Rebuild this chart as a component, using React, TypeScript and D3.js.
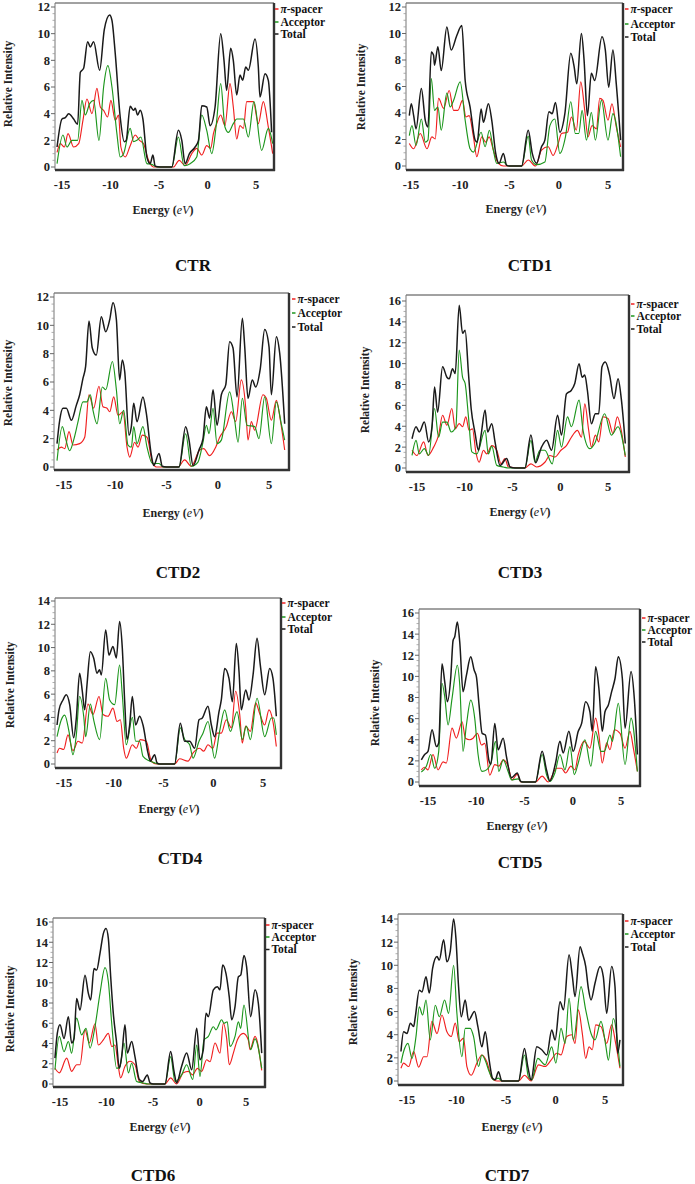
import React from 'react';
import * as d3 from 'd3';

type Pt = [number, number];

// energy ticks shared by every panel
const ENERGY_TICKS = [-15, -10, -5, 0, 5];
const SERIES_NAMES = ['π-spacer', 'Acceptor', 'Total'];
const SERIES_COLORS = ['#f02020', '#1c961c', '#1a1a1a'];

// ---- CTR ----
const ctrTotal: Pt[] = [[-15.51,1.5],[-15.0,3.6],[-14.66,3.7],[-14.31,4.0],[-13.8,3.6],[-13.39,3.2],[-13.11,7.1],[-12.77,7.4],[-12.36,9.4],[-12.08,9.0],[-11.74,9.4],[-11.12,7.25],[-10.64,10.3],[-10.09,11.4],[-9.85,11.0],[-9.51,8.5],[-9.0,3.75],[-8.58,1.9],[-8.38,2.0],[-7.97,4.55],[-7.62,4.25],[-7.45,4.4],[-7.21,3.9],[-6.94,4.25],[-6.66,3.6],[-6.25,0.75],[-5.91,0.25],[-5.63,0.9],[-5.39,0.05],[-4.88,0],[-3.68,0],[-3.0,2.75],[-2.65,2.0],[-2.31,0.25],[-1.86,1.0],[-1.28,1.5],[-0.93,2.0],[-0.59,4.6],[-0.08,4.5],[0.27,3.1],[0.78,4.5],[1.36,10.0],[1.7,8.0],[1.97,5.75],[2.39,8.9],[2.66,8.0],[3.01,5.4],[3.35,6.9],[3.63,6.5],[3.94,7.5],[4.21,7.25],[4.9,9.6],[5.24,7.5],[5.41,5.25],[5.93,7.0],[6.27,6.5],[6.61,2.6]];
const ctrAcceptor: Pt[] = [[-15.51,0.25],[-14.9,2.4],[-14.49,1.5],[-13.97,2.0],[-13.39,2.0],[-12.94,5.0],[-12.6,3.9],[-12.15,4.75],[-11.74,5.0],[-11.19,2.0],[-10.71,6.0],[-10.27,7.6],[-9.85,6.0],[-9.34,2.5],[-9.0,0.75],[-8.65,1.0],[-7.97,2.9],[-7.62,1.9],[-7.28,2.0],[-6.87,2.25],[-6.25,0.25],[-5.74,0.2],[-5.22,0],[-3.68,0],[-3.0,2.25],[-2.41,0.1],[-1.79,0.25],[-1.11,0.75],[-0.59,3.9],[-0.08,2.75],[0.44,1.0],[0.88,3.0],[1.36,6.25],[1.8,3.0],[2.15,2.6],[2.66,3.25],[3.01,3.6],[3.7,3.6],[4.21,2.25],[4.79,4.9],[5.58,1.25],[6.27,2.9],[6.72,1.75]];
const ctrSpacer: Pt[] = [[-15.51,1.1],[-15.17,1.75],[-14.76,1.5],[-14.38,2.5],[-13.8,1.5],[-13.28,1.75],[-12.84,3.5],[-12.43,5.1],[-11.91,4.0],[-11.4,5.9],[-11.05,4.5],[-10.71,4.25],[-10.3,3.75],[-9.96,5.0],[-9.51,3.5],[-9.17,3.9],[-8.93,1.5],[-8.48,0.75],[-7.97,1.6],[-7.45,2.4],[-7.01,2.0],[-6.6,1.75],[-6.08,0.5],[-5.57,0],[-3.51,0],[-2.92,0.5],[-2.31,0.1],[-1.62,1.0],[-1.11,1.4],[-0.59,0.9],[-0.08,1.6],[0.33,1.4],[0.61,2.5],[0.95,3.25],[1.36,3.9],[1.8,3.1],[2.32,6.25],[2.66,4.5],[3.01,2.1],[3.35,3.1],[3.7,2.9],[4.04,4.9],[4.73,4.9],[5.24,3.25],[5.75,4.9],[6.27,3.0],[6.72,1.0]];

// ---- CTD1 ----
const ctd1Total: Pt[] = [[-15.17,3.8],[-14.97,4.7],[-14.73,3.8],[-14.49,2.8],[-13.95,5.85],[-13.55,3.45],[-13.28,2.95],[-12.94,8.6],[-12.71,8.35],[-12.61,7.6],[-12.27,9.0],[-11.93,7.2],[-11.36,10.5],[-10.92,8.75],[-10.35,9.85],[-9.84,10.6],[-9.5,6.45],[-9.0,4.45],[-8.49,1.95],[-8.29,1.8],[-7.88,4.3],[-7.65,3.3],[-7.14,4.7],[-6.8,3.45],[-6.4,0.95],[-6.06,0.2],[-5.62,0.95],[-5.29,0.05],[-4.95,0],[-3.77,0],[-3.1,2.7],[-2.69,0.95],[-2.25,0.2],[-1.75,1.45],[-1.41,1.95],[-1.0,4.1],[-0.67,3.95],[-0.33,4.8],[0.11,2.55],[0.62,3.95],[1.22,8.5],[1.56,7.5],[1.83,6.2],[2.3,10.0],[2.57,8.0],[2.91,3.8],[3.31,7.0],[3.65,6.45],[4.39,9.75],[4.73,8.75],[5.07,5.95],[5.5,8.75],[5.84,6.2],[6.28,1.95]];
const ctd1Acceptor: Pt[] = [[-15.17,2.3],[-14.9,3.05],[-14.49,1.55],[-13.95,3.55],[-13.55,1.8],[-13.28,1.95],[-12.94,6.6],[-12.61,4.2],[-12.27,4.45],[-11.93,2.7],[-11.36,5.5],[-11.02,4.45],[-10.68,4.95],[-10.01,6.35],[-9.5,3.45],[-9.0,1.3],[-8.66,1.05],[-7.88,2.55],[-7.48,1.45],[-7.04,2.7],[-6.64,1.2],[-6.3,0.2],[-5.62,0.3],[-5.12,0],[-3.77,0],[-3.1,2.25],[-2.76,0.45],[-2.25,0.1],[-1.41,0.3],[-0.9,3.05],[-0.4,3.55],[0.11,0.95],[0.68,2.2],[1.22,4.85],[1.69,2.45],[2.03,2.45],[2.37,4.2],[2.81,1.95],[3.31,4.05],[3.72,1.95],[4.33,4.95],[5.0,1.95],[5.5,3.95],[6.28,0.7]];
const ctd1Spacer: Pt[] = [[-15.17,1.7],[-14.73,1.3],[-14.06,2.45],[-13.38,1.3],[-12.88,2.2],[-12.54,2.05],[-12.2,5.1],[-11.69,4.35],[-11.12,5.7],[-10.68,4.2],[-10.24,4.2],[-9.77,4.95],[-9.43,3.7],[-9.1,3.8],[-8.66,2.2],[-8.32,0.7],[-7.82,2.2],[-7.41,1.8],[-7.07,2.2],[-6.64,1.2],[-6.13,0.2],[-5.62,0],[-3.77,0],[-3.1,0.45],[-2.35,0],[-1.75,1.2],[-1.07,1.45],[-0.57,0.8],[-0.06,1.7],[0.28,2.45],[0.89,2.55],[1.29,3.7],[1.79,2.7],[2.23,6.35],[2.64,4.2],[2.97,2.2],[3.38,3.05],[3.82,2.8],[4.16,5.1],[4.49,4.95],[5.0,3.45],[5.4,4.7],[5.84,2.95],[6.28,1.45]];

// ---- CTD2 ----
const ctd2Total: Pt[] = [[-15.68,1.65],[-15.42,3.3],[-15.1,4.15],[-14.77,4.15],[-14.28,3.3],[-13.8,4.35],[-13.47,5.1],[-13.15,6.25],[-12.89,7.1],[-12.56,10.3],[-12.24,8.4],[-11.85,7.9],[-11.36,10.6],[-10.93,9.55],[-10.54,10.4],[-10.22,11.6],[-9.89,10.4],[-9.57,6.15],[-9.31,7.55],[-9.08,6.75],[-8.66,2.25],[-8.43,2.85],[-8.2,4.5],[-7.88,3.2],[-7.3,4.95],[-6.97,3.8],[-6.48,0.85],[-6.25,0.1],[-5.73,0.95],[-5.41,0.05],[-5.02,0],[-3.78,0],[-3.13,2.85],[-2.8,1.9],[-2.41,0.1],[-1.83,1.2],[-1.44,2.0],[-1.11,4.25],[-0.79,3.45],[-0.46,5.45],[-0.07,2.95],[0.35,5.1],[0.78,5.8],[1.16,8.85],[1.49,8.4],[1.88,4.95],[2.4,10.5],[2.63,8.5],[2.95,4.85],[3.37,6.15],[3.7,5.65],[4.15,6.95],[4.58,9.7],[5.0,8.5],[5.23,5.1],[5.72,9.2],[6.04,8.05],[6.53,3.05]];
const ctd2Acceptor: Pt[] = [[-15.68,0.45],[-15.16,2.85],[-14.84,2.0],[-14.45,1.15],[-14.06,1.9],[-13.63,3.2],[-13.15,4.6],[-12.76,4.6],[-12.43,5.1],[-12.17,4.0],[-11.78,3.05],[-11.26,5.65],[-10.93,5.45],[-10.28,7.45],[-9.89,5.45],[-9.57,3.05],[-9.18,4.0],[-8.76,1.55],[-8.43,1.4],[-8.2,2.85],[-7.88,1.65],[-7.3,2.85],[-6.9,1.4],[-6.38,0.25],[-5.73,0.25],[-5.34,0],[-3.78,0],[-3.13,2.35],[-2.58,0.05],[-1.93,0.35],[-1.44,1.75],[-1.11,2.95],[-0.85,2.35],[-0.46,4.15],[-0.07,1.65],[0.35,1.9],[1.16,5.3],[1.65,3.3],[1.98,1.75],[2.4,4.85],[2.85,2.95],[3.6,2.85],[4.02,2.0],[4.58,4.95],[5.23,1.65],[5.72,4.6],[6.2,3.05],[6.53,1.9]];
const ctd2Spacer: Pt[] = [[-15.68,1.2],[-15.26,1.4],[-14.93,1.3],[-14.51,2.5],[-14.12,1.55],[-13.47,1.65],[-12.98,2.1],[-12.56,5.1],[-12.11,4.15],[-11.59,5.7],[-11.2,4.25],[-10.8,4.15],[-10.54,3.9],[-10.15,4.95],[-9.73,3.65],[-9.24,3.9],[-8.85,1.4],[-8.59,0.7],[-8.11,1.75],[-7.78,1.4],[-7.36,2.25],[-6.9,2.1],[-6.38,0.35],[-5.99,0],[-3.88,0],[-3.23,0.5],[-2.58,0.05],[-1.76,1.2],[-1.37,1.3],[-0.79,0.8],[-0.2,1.4],[0.19,2.1],[0.84,2.85],[1.33,3.9],[1.75,3.2],[2.3,6.15],[2.72,4.25],[2.95,1.9],[3.28,3.2],[3.6,2.6],[4.41,5.1],[4.74,4.85],[5.23,3.3],[5.72,4.7],[6.11,3.3],[6.53,1.2]];

// ---- CTD3 ----
const ctd3Total: Pt[] = [[-15.52,2.8],[-15.1,3.95],[-14.76,3.45],[-14.23,4.4],[-13.78,2.5],[-13.43,3.95],[-13.16,7.75],[-12.84,5.35],[-12.32,9.7],[-11.87,8.7],[-11.63,8.55],[-11.28,9.5],[-11.0,9.05],[-10.58,15.6],[-10.23,12.9],[-9.96,13.2],[-9.61,9.05],[-9.33,5.7],[-8.91,3.3],[-8.57,1.7],[-8.29,3.15],[-7.87,5.55],[-7.6,3.45],[-7.17,4.25],[-6.83,2.5],[-6.3,0.25],[-5.61,0.9],[-5.26,0.1],[-4.74,0],[-3.7,0],[-3.07,3.15],[-2.58,0.5],[-1.96,2.0],[-1.43,2.65],[-0.91,1.7],[-0.28,5.05],[0.13,3.15],[0.65,7.1],[1.17,7.45],[1.52,8.1],[1.97,10.0],[2.29,8.7],[2.57,8.9],[2.84,7.45],[3.26,4.25],[3.68,5.2],[4.03,5.2],[4.37,9.7],[4.72,10.15],[5.17,8.9],[5.63,6.65],[6.05,8.55],[6.39,6.65],[6.81,2.35]];
const ctd3Acceptor: Pt[] = [[-15.52,1.2],[-15.1,2.65],[-14.76,1.35],[-14.23,1.85],[-13.78,1.2],[-13.16,5.7],[-12.74,2.95],[-12.32,4.4],[-11.87,4.4],[-11.42,3.45],[-10.93,3.95],[-10.58,11.3],[-10.23,8.7],[-9.96,8.1],[-9.61,4.9],[-9.26,1.55],[-8.74,1.35],[-7.87,3.6],[-7.53,1.35],[-7.17,2.1],[-6.65,0.25],[-5.96,0.1],[-5.43,0],[-3.7,0],[-3.07,2.65],[-2.65,0.55],[-2.13,1.7],[-1.61,1.7],[-0.84,0.4],[-0.28,3.6],[0.13,2.0],[0.76,4.9],[1.17,3.95],[1.97,6.5],[2.39,3.6],[3.09,1.85],[3.61,2.35],[4.65,5.2],[5.35,3.15],[6.05,3.95],[6.81,1.2]];
const ctd3Spacer: Pt[] = [[-15.52,1.7],[-15.0,1.2],[-14.3,2.5],[-13.85,1.2],[-13.26,2.0],[-12.74,3.15],[-12.32,5.05],[-11.87,4.1],[-11.35,5.7],[-11.0,3.75],[-10.58,4.25],[-10.23,3.95],[-9.89,4.9],[-9.54,3.6],[-9.19,3.75],[-8.84,1.55],[-8.5,0.55],[-8.04,1.7],[-7.7,1.35],[-7.17,2.15],[-6.65,1.7],[-6.2,0.4],[-5.8,0.9],[-5.43,0.1],[-3.7,0],[-3.07,0.4],[-2.48,0.1],[-1.61,0.55],[-1.09,1.2],[-0.56,1.05],[0.07,1.7],[0.65,2.15],[1.17,2.95],[1.8,3.6],[2.22,2.95],[2.57,6.15],[2.98,3.6],[3.26,2.0],[3.68,3.15],[4.03,2.5],[4.48,4.9],[5.0,4.75],[5.52,3.3],[5.98,4.9],[6.39,3.6],[6.81,1.05]];

// ---- CTD4 ----
const ctd4Total: Pt[] = [[-15.7,3.35],[-15.5,4.65],[-15.1,5.5],[-14.77,5.95],[-14.43,5.1],[-14.03,2.25],[-13.76,3.95],[-13.43,7.8],[-13.16,6.25],[-12.92,4.65],[-12.69,6.8],[-12.35,9.65],[-12.02,9.1],[-11.68,7.8],[-11.42,8.1],[-11.25,7.65],[-10.81,11.5],[-10.48,9.35],[-10.08,10.1],[-9.74,9.1],[-9.41,12.25],[-9.14,9.95],[-8.9,5.35],[-8.67,2.1],[-8.4,3.35],[-8.13,5.8],[-7.8,3.35],[-7.4,4.1],[-7.06,3.35],[-6.56,0.95],[-6.32,0.25],[-5.89,0.8],[-5.65,0.1],[-5.39,0],[-3.88,0],[-3.31,3.5],[-2.87,1.95],[-2.37,1.95],[-1.87,1.35],[-1.43,3.8],[-1.1,3.95],[-0.53,4.95],[-0.19,3.35],[0.14,2.35],[0.58,4.5],[0.81,5.5],[1.15,8.2],[1.58,7.35],[1.92,5.35],[2.32,10.35],[2.59,7.95],[2.82,4.65],[3.26,6.35],[3.59,5.5],[4.0,7.65],[4.4,10.8],[4.73,8.5],[5.17,5.95],[5.67,8.2],[6.0,7.35],[6.34,4.1]];
const ctd4Acceptor: Pt[] = [[-15.7,2.35],[-15.27,3.8],[-14.93,4.2],[-14.5,2.8],[-14.1,0.8],[-13.76,2.5],[-13.43,5.8],[-13.02,4.1],[-12.82,2.35],[-12.35,5.15],[-12.02,3.8],[-11.42,2.1],[-10.81,7.35],[-10.41,5.5],[-9.91,5.1],[-9.41,8.5],[-9.14,5.95],[-8.74,1.65],[-8.13,4.0],[-7.8,1.95],[-7.4,1.95],[-7.06,0.65],[-6.39,0.25],[-5.89,0.1],[-5.39,0],[-3.88,0],[-3.31,3.1],[-2.87,2.1],[-2.37,1.65],[-2.03,0.5],[-1.43,1.95],[-1.03,2.65],[-0.53,3.65],[0.14,0.5],[0.64,2.8],[1.15,4.65],[1.72,2.8],[2.39,4.5],[2.92,2.1],[3.32,3.25],[3.73,2.1],[4.4,5.65],[5.17,2.35],[5.84,3.95],[6.07,3.95],[6.34,2.5]];
const ctd4Spacer: Pt[] = [[-15.7,0.95],[-15.44,1.35],[-15.03,1.25],[-14.6,2.5],[-14.1,1.15],[-13.59,1.95],[-13.16,1.8],[-12.59,5.15],[-12.09,4.25],[-11.48,5.8],[-11.08,4.25],[-10.58,4.1],[-10.08,4.8],[-9.67,3.65],[-9.34,3.8],[-9.0,1.35],[-8.74,0.5],[-8.13,1.65],[-7.73,1.35],[-7.33,2.1],[-6.73,1.95],[-6.22,0.25],[-5.72,0],[-3.88,0],[-3.38,0.45],[-2.54,0.25],[-2.03,0.95],[-1.37,1.35],[-0.96,1.1],[-0.53,1.65],[-0.03,1.35],[0.38,2.65],[0.81,2.65],[1.31,3.8],[1.82,3.1],[2.25,6.25],[2.66,4.25],[2.92,1.8],[3.26,3.25],[3.73,2.8],[4.26,5.25],[4.66,4.35],[5.17,3.35],[5.6,4.65],[6.0,3.65],[6.34,1.5]];

// ---- CTD5 ----
const ctd5Total: Pt[] = [[-15.69,2.1],[-15.35,2.6],[-15.0,2.9],[-14.58,4.95],[-14.13,3.35],[-13.89,3.7],[-13.55,11.2],[-13.27,9.5],[-12.99,7.6],[-12.65,9.8],[-12.4,13.4],[-12.23,13.75],[-11.96,15.15],[-11.71,13.25],[-11.37,8.55],[-11.02,10.1],[-10.57,11.85],[-10.22,10.6],[-9.98,9.95],[-9.71,7.3],[-9.39,4.6],[-9.05,4.45],[-8.7,2.1],[-8.49,1.65],[-8.08,5.55],[-7.73,3.05],[-7.21,4.15],[-6.87,2.4],[-6.35,0.4],[-5.76,0.85],[-5.38,0.05],[-4.97,0],[-3.86,0],[-3.17,2.9],[-2.72,1.15],[-2.37,0.1],[-1.78,1.8],[-1.33,3.85],[-0.99,2.75],[-0.4,4.8],[0.05,2.9],[0.57,4.8],[0.92,5.55],[1.33,7.6],[1.78,6.65],[2.02,4.8],[2.37,10.9],[2.71,8.85],[3.06,4.8],[3.34,6.65],[3.69,7.3],[4.03,8.55],[4.38,9.8],[4.72,11.85],[5.14,9.8],[5.42,5.1],[6.04,10.45],[6.38,7.9],[6.7,2.6]];
const ctd5Acceptor: Pt[] = [[-15.69,0.95],[-15.17,1.5],[-14.72,2.6],[-14.31,1.3],[-13.89,2.9],[-13.55,9.35],[-13.27,8.1],[-12.92,5.4],[-12.51,7.9],[-11.96,11.05],[-11.71,9.2],[-11.37,2.9],[-11.02,5.4],[-10.57,7.75],[-10.16,6.05],[-9.81,2.6],[-9.39,1.0],[-8.94,1.15],[-8.43,1.95],[-8.01,3.85],[-7.66,1.0],[-7.21,2.1],[-6.7,1.0],[-6.35,0.2],[-5.66,0.3],[-5.31,0],[-3.86,0],[-3.17,2.6],[-2.72,0.7],[-2.37,0.05],[-1.85,0.85],[-1.33,2.6],[-0.81,1.15],[-0.29,3.35],[0.16,0.7],[0.57,1.8],[1.26,4.0],[1.88,1.5],[2.37,4.8],[2.92,2.9],[3.27,2.9],[3.86,4.45],[4.1,3.85],[4.72,7.45],[5.42,1.65],[6.04,6.05],[6.7,1.0]];
const ctd5Spacer: Pt[] = [[-15.69,1.15],[-15.35,1.4],[-15.0,1.15],[-14.48,2.6],[-13.96,1.15],[-13.44,1.9],[-13.1,1.8],[-12.51,5.1],[-12.06,4.15],[-11.47,5.7],[-11.12,4.15],[-10.67,4.0],[-10.33,4.15],[-9.88,4.6],[-9.46,3.5],[-9.12,3.65],[-8.6,0.65],[-8.08,1.65],[-7.66,1.5],[-7.21,2.1],[-6.7,1.5],[-6.28,0.2],[-5.76,0.75],[-5.38,0],[-3.86,0],[-3.17,0.55],[-2.54,0],[-1.68,1.3],[-1.16,1.3],[-0.74,0.85],[-0.19,1.5],[0.22,1.15],[0.57,2.6],[1.19,3.85],[1.78,3.2],[2.37,6.05],[2.71,4.45],[3.06,1.8],[3.51,3.7],[3.86,3.05],[4.31,4.95],[4.9,4.6],[5.42,3.2],[5.93,4.8],[6.28,3.2],[6.7,1.0]];

// ---- CTD6 ----
const ctd6Total: Pt[] = [[-15.54,2.55],[-15.29,5.0],[-15.0,5.85],[-14.57,4.5],[-14.1,6.65],[-13.75,4.05],[-13.49,4.5],[-13.21,8.45],[-12.85,7.3],[-12.31,10.75],[-11.95,8.95],[-11.7,8.3],[-11.34,11.4],[-11.06,11.25],[-10.7,12.9],[-10.34,14.85],[-10.05,15.35],[-9.8,14.35],[-9.55,10.6],[-9.27,7.0],[-8.91,4.05],[-8.62,1.55],[-8.37,2.7],[-8.01,5.85],[-7.76,3.05],[-7.29,4.2],[-6.94,2.7],[-6.47,0.45],[-6.11,0.25],[-5.61,0.9],[-5.32,0.1],[-4.96,0],[-3.71,0],[-3.1,3.2],[-2.74,1.25],[-2.46,0.1],[-1.92,1.75],[-1.38,3.05],[-0.84,1.4],[-0.3,5.5],[0.05,2.4],[0.41,3.4],[0.7,7.0],[0.95,6.65],[1.49,9.3],[1.92,9.6],[2.2,9.3],[2.49,11.75],[2.85,10.9],[3.2,8.6],[3.46,6.35],[3.82,7.65],[4.18,10.6],[4.43,10.75],[4.78,12.7],[5.07,11.55],[5.5,6.65],[5.97,9.3],[6.33,7.95],[6.69,3.05]];
const ctd6Acceptor: Pt[] = [[-15.54,1.4],[-15.07,4.7],[-14.57,3.2],[-14.1,4.2],[-13.75,3.05],[-13.21,6.5],[-12.67,4.85],[-12.2,5.5],[-11.77,3.55],[-11.24,5.65],[-10.7,8.95],[-10.16,11.5],[-9.8,10.1],[-9.44,6.0],[-8.91,1.55],[-8.55,1.75],[-8.12,4.05],[-7.65,1.1],[-7.29,2.05],[-6.76,0.25],[-6.04,0.1],[-5.5,0],[-3.71,0],[-3.1,2.7],[-2.63,0.25],[-1.92,0.9],[-1.38,1.9],[-0.73,0.45],[-0.3,3.85],[0.05,0.75],[0.48,4.35],[0.95,4.7],[1.49,5.65],[1.77,5.35],[2.38,6.35],[2.63,6.0],[2.99,6.15],[3.28,3.7],[3.82,4.7],[4.18,6.15],[4.43,5.5],[4.78,7.8],[5.5,3.4],[5.97,4.45],[6.69,1.55]];
const ctd6Spacer: Pt[] = [[-15.54,1.55],[-15.07,1.1],[-14.28,2.55],[-13.75,1.25],[-13.21,1.9],[-12.85,1.9],[-12.31,5.35],[-11.85,4.05],[-11.24,5.95],[-10.88,3.85],[-10.34,4.35],[-9.8,5.0],[-9.44,3.7],[-9.09,3.85],[-8.73,1.75],[-8.48,0.6],[-8.01,1.75],[-7.47,2.25],[-6.94,1.9],[-6.47,0.25],[-5.68,0],[-3.71,0],[-3.1,0.6],[-2.46,0],[-1.74,1.1],[-1.2,1.25],[-0.73,0.9],[-0.23,1.55],[0.23,1.25],[0.77,2.4],[1.13,2.2],[1.67,4.05],[2.2,3.05],[2.56,6.0],[2.92,4.5],[3.2,1.9],[3.64,3.05],[4.07,4.35],[4.71,5.0],[5.25,4.35],[5.43,3.4],[5.97,4.7],[6.69,1.35]];

// ---- CTD7 ----
const ctd7Total: Pt[] = [[-15.61,2.55],[-15.34,4.25],[-15.0,4.1],[-14.66,5.0],[-14.33,4.7],[-14.16,5.55],[-13.76,7.85],[-13.49,7.7],[-13.08,9.0],[-12.75,7.6],[-12.41,9.75],[-11.97,10.75],[-11.74,10.45],[-11.3,12.2],[-10.97,10.3],[-10.63,11.2],[-10.29,14.0],[-10.06,12.35],[-9.79,8.15],[-9.52,5.55],[-9.12,7.0],[-8.78,5.25],[-8.18,6.0],[-7.84,4.7],[-7.44,2.95],[-7.1,4.25],[-6.7,1.8],[-6.36,0.25],[-6.09,0.1],[-5.76,0.8],[-5.42,0],[-3.74,0],[-3.13,2.8],[-2.8,1.25],[-2.46,0.1],[-1.89,2.95],[-1.39,2.7],[-0.88,2.25],[-0.38,4.4],[-0.04,3.55],[0.46,6.85],[0.8,6.15],[1.37,10.9],[1.71,9.0],[1.97,7.3],[2.48,11.6],[2.71,11.05],[3.05,9.9],[3.32,8.0],[3.59,7.0],[3.99,8.45],[4.5,9.9],[4.83,9.0],[5.17,5.85],[5.67,9.9],[6.01,8.15],[6.28,2.4],[6.51,3.55]];
const ctd7Acceptor: Pt[] = [[-15.61,1.55],[-15.34,2.55],[-14.9,3.25],[-14.5,1.95],[-14.09,3.85],[-13.76,6.4],[-13.42,5.7],[-13.08,7.0],[-12.65,3.55],[-12.14,6.55],[-11.74,5.55],[-11.2,7.0],[-10.8,5.85],[-10.29,10.0],[-9.96,5.85],[-9.45,2.1],[-9.12,4.55],[-8.61,4.55],[-8.28,3.85],[-7.77,1.25],[-7.44,2.25],[-7.1,1.8],[-6.7,0.8],[-6.26,0.1],[-5.76,0.25],[-5.42,0],[-3.74,0],[-3.13,2.25],[-2.73,0.35],[-2.39,0.1],[-1.79,1.95],[-1.05,1.4],[-0.38,2.95],[0.03,1.55],[0.56,4.55],[0.97,3.25],[1.37,7.15],[1.81,3.55],[2.58,8.15],[3.05,6.15],[3.59,4.1],[3.99,3.55],[4.6,5.15],[5.07,3.1],[5.34,1.8],[5.84,5.4],[6.51,1.25]];
const ctd7Spacer: Pt[] = [[-15.61,1.1],[-15.34,1.55],[-14.83,1.25],[-14.33,2.55],[-13.82,1.2],[-13.32,2.1],[-12.98,2.1],[-12.48,5.15],[-11.97,4.1],[-11.47,5.7],[-10.97,4.25],[-10.53,3.85],[-10.13,5.0],[-9.72,3.4],[-9.29,3.7],[-8.95,1.25],[-8.51,0.5],[-7.94,1.55],[-7.44,2.25],[-6.93,1.65],[-6.43,0.25],[-5.92,0],[-3.74,0],[-3.13,0.5],[-2.46,0],[-1.72,1.4],[-1.05,1.25],[-0.45,1.8],[0.13,2.4],[0.56,2.25],[1.13,3.85],[1.64,4.0],[1.97,3.25],[2.31,6.15],[2.71,4.1],[3.05,1.95],[3.39,2.95],[3.72,2.7],[4.06,4.85],[4.6,4.7],[5.17,3.25],[5.67,4.85],[6.08,3.25],[6.51,1.1]];

const TITLES = ['CTR', 'CTD1', 'CTD2', 'CTD3', 'CTD4', 'CTD5', 'CTD6', 'CTD7'];
const Y_MAX = [12, 12, 12, 16, 14, 16, 16, 14];
const SERIES = [
  [ctrSpacer, ctrAcceptor, ctrTotal],
  [ctd1Spacer, ctd1Acceptor, ctd1Total],
  [ctd2Spacer, ctd2Acceptor, ctd2Total],
  [ctd3Spacer, ctd3Acceptor, ctd3Total],
  [ctd4Spacer, ctd4Acceptor, ctd4Total],
  [ctd5Spacer, ctd5Acceptor, ctd5Total],
  [ctd6Spacer, ctd6Acceptor, ctd6Total],
  [ctd7Spacer, ctd7Acceptor, ctd7Total],
];

// page layout of every panel (pixels)
const LAYOUT = [
  { left: 55, right: 274, top: 3, bottom: 170, xA: 62, xB: 256, y0: 167, yMaxPx: 7,
    legX: 275, legY: [9, 22, 34], ylab: [8, 84], elab: [163, 210], title: [193, 271] },
  { left: 406, right: 623, top: 3, bottom: 170, xA: 411, xB: 608, y0: 166, yMaxPx: 7,
    legX: 625, legY: [9, 24, 37], ylab: [361, 87], elab: [516, 209], title: [530, 271] },
  { left: 54, right: 289, top: 293, bottom: 470, xA: 64, xB: 269, y0: 467, yMaxPx: 297,
    legX: 292, legY: [299, 313, 327], ylab: [8, 383], elab: [173, 513], title: [178, 578], clip: 346 },
  { left: 406, right: 629, top: 295, bottom: 472, xA: 417, xB: 608, y0: 468, yMaxPx: 301,
    legX: 631, legY: [304, 316, 329], ylab: [365, 390], elab: [520, 512], title: [520, 578] },
  { left: 55, right: 281, top: 598, bottom: 768, xA: 64, xB: 263, y0: 764, yMaxPx: 601,
    legX: 282, legY: [603, 617, 629], ylab: [10, 685], elab: [169, 809], title: [180, 864] },
  { left: 419, right: 640, top: 609, bottom: 786, xA: 428, xB: 621, y0: 782, yMaxPx: 613,
    legX: 642, legY: [618, 630, 642], ylab: [375, 703], elab: [517, 826], title: [520, 868] },
  { left: 53, right: 265, top: 918, bottom: 1087, xA: 60, xB: 246, y0: 1084, yMaxPx: 922,
    legX: 266, legY: [925, 937, 949.5], ylab: [10, 1009], elab: [160, 1127], title: [153, 1181] },
  { left: 398, right: 623, top: 914, bottom: 1085, xA: 407, xB: 605, y0: 1081, yMaxPx: 919,
    legX: 625, legY: [921, 934, 947], ylab: [353, 1002], elab: [512, 1127], title: [507, 1181] },
];

const FONT = '"Liberation Serif", "Times New Roman", serif';

function Panel({ idx }: { idx: number }) {
  const L = LAYOUT[idx];
  const yMax = Y_MAX[idx];
  const x = d3.scaleLinear().domain([ENERGY_TICKS[0], ENERGY_TICKS[4]]).range([L.xA, L.xB]);
  const y = d3.scaleLinear().domain([0, yMax]).range([L.y0, L.yMaxPx]);
  const line = d3.line<Pt>().x(d => x(d[0])).y(d => y(d[1])).curve(d3.curveMonotoneX);
  const yTicks = d3.range(0, yMax + 0.01, 2);
  const minor = d3.range(0, yMax + 0.01, 0.5).filter(v => v % 2 !== 0);
  const clipId = `clip-${idx}`;
  const legClip = `leg-${idx}`;

  return (
    <g fontFamily={FONT}>
      <defs>
        <clipPath id={clipId}>
          <rect x={L.left} y={L.top} width={L.right - L.left} height={L.bottom - L.top} />
        </clipPath>
        <clipPath id={legClip}>
          <rect x={0} y={L.top - 10} width={(L.clip ?? 695)} height={60} />
        </clipPath>
      </defs>

      {/* data */}
      <g clipPath={`url(#${clipId})`}>
        {SERIES[idx].map((s, i) => (
          <path key={i} d={line(s) || ''} fill="none" stroke={SERIES_COLORS[i]}
            strokeWidth={i === 2 ? 1.5 : 1.15} strokeLinejoin="round" />
        ))}
      </g>

      {/* frame */}
      <line x1={L.left} x2={L.right} y1={L.top} y2={L.top} stroke="#444" strokeWidth={1} />
      <line x1={L.left} x2={L.left} y1={L.top} y2={L.bottom} stroke="#777" strokeWidth={1} />
      <line x1={L.right} x2={L.right} y1={L.top} y2={L.bottom + 1} stroke="#333" strokeWidth={2.4} />
      <line x1={L.left} x2={L.right + 1} y1={L.bottom} y2={L.bottom} stroke="#333" strokeWidth={2.4} />

      {/* y axis */}
      {minor.map(v => (
        <line key={'m' + v} x1={L.left - 2.5} x2={L.left} y1={y(v)} y2={y(v)} stroke="#999" strokeWidth={0.8} />
      ))}
      {yTicks.map(v => (
        <g key={'t' + v}>
          <line x1={L.left - 4} x2={L.left} y1={y(v)} y2={y(v)} stroke="#666" strokeWidth={1} />
          <text x={L.left - 5} y={y(v)} dy="0.35em" textAnchor="end" fontSize={12.5}
            fontWeight="bold" fill="#222">{v}</text>
        </g>
      ))}

      {/* x axis labels */}
      {ENERGY_TICKS.map(v => (
        <text key={'x' + v} x={x(v)} y={L.bottom + 19} textAnchor="middle" fontSize={12.5}
          fontWeight="bold" fill="#222">{v}</text>
      ))}

      <text transform={`translate(${L.ylab[0]},${L.ylab[1]}) rotate(-90)`} dy="0.35em" textAnchor="middle"
        fontSize={11.5} fontWeight="bold" fill="#222">Relative Intensity</text>
      <text x={L.elab[0]} y={L.elab[1]} dy="0.35em" textAnchor="middle" fontSize={12}
        fontWeight="bold" fill="#222">Energy (<tspan fontStyle="italic" fontWeight="normal">eV</tspan>)</text>

      {/* legend */}
      <g clipPath={`url(#${legClip})`}>
        {SERIES_NAMES.map((n, i) => (
          <g key={n}>
            <line x1={L.legX} x2={L.legX + 3.5} y1={L.legY[i]} y2={L.legY[i]} stroke={SERIES_COLORS[i]}
              strokeWidth={1.5} />
            <text x={L.legX + 5.5} y={L.legY[i]} dy="0.33em" fontSize={11.5} fontWeight="bold" fill="#111">
              {i === 0 ? (<><tspan fontStyle="italic">π</tspan>-spacer</>) : n}
            </text>
          </g>
        ))}
      </g>

      <text x={L.title[0]} y={L.title[1]} textAnchor="middle" fontSize={17} fontWeight="bold"
        fill="#111">{TITLES[idx]}</text>
    </g>
  );
}

export default function App() {
  return (
    <svg width={695} height={1184} viewBox="0 0 695 1184"
      style={{ position: 'absolute', left: 0, top: 0, background: '#fff' }}>
      <rect width={695} height={1184} fill="#fff" />
      {TITLES.map((_, i) => <Panel key={i} idx={i} />)}
    </svg>
  );
}
